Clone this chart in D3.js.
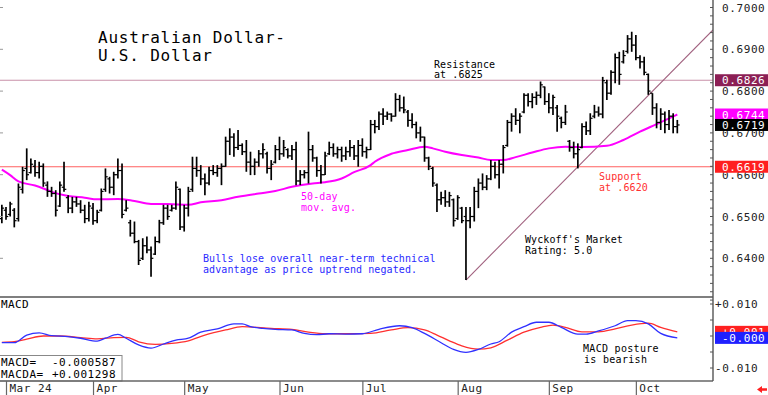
<!DOCTYPE html>
<html><head><meta charset="utf-8">
<script src="https://cdn.jsdelivr.net/npm/d3@7/dist/d3.min.js"></script>
<style>body{margin:0;background:#fff}svg{display:block}text{font-family:"DejaVu Sans Mono",monospace;white-space:pre}</style>
</head><body>
<script>
// ---- data ----
const highs=[.6528,.6523,.6535,.6520,.6579,.6619,.6663,.6639,.6635,.6631,
.6627,.6584,.6571,.6563,.6584,.6631,.6551,.6547,.6547,.6539,
.6528,.6535,.6532,.6516,.6567,.6615,.6595,.6607,.6639,.6627,
.6539,.6492,.6488,.6444,.6448,.6452,.6428,.6452,.6492,.6528,
.6528,.6528,.6584,.6567,.6528,.6571,.6643,.6643,.6623,.6603,
.6619,.6623,.6623,.6627,.6691,.6711,.6699,.6707,.6675,.6683,
.6655,.6639,.6659,.6675,.6655,.6635,.6671,.6691,.6683,.6663,
.6671,.6679,.6611,.6611,.6703,.6671,.6643,.6623,.6655,.6679,
.6675,.6667,.6667,.6667,.6683,.6671,.6683,.6687,.6667,.6731,
.6731,.6751,.6759,.6751,.6747,.6795,.6791,.6787,.6755,.6747,
.6727,.6715,.6691,.6643,.6619,.6579,.6559,.6563,.6559,.6543,
.6551,.6523,.6523,.6523,.6571,.6591,.6603,.6599,.6635,.6631,
.6635,.6671,.6731,.6747,.6759,.6747,.6795,.6795,.6795,.6799,
.6823,.6811,.6795,.6791,.6767,.6739,.6767,.6683,.6679,.6675,
.6723,.6727,.6747,.6767,.6763,.6834,.6827,.6850,.6890,.6894,
.6898,.6934,.6942,.6934,.6886,.6882,.6842,.6795,.6771,.6759,
.6751,.6755,.6747,.6731];
const lows=[.6484,.6492,.6500,.6474,.6488,.6555,.6587,.6603,.6595,.6591,
.6571,.6547,.6547,.6500,.6523,.6559,.6508,.6508,.6523,.6508,
.6484,.6488,.6480,.6484,.6512,.6559,.6555,.6551,.6591,.6496,
.6512,.6452,.6436,.6384,.6396,.6412,.6356,.6408,.6436,.6480,
.6492,.6512,.6516,.6468,.6464,.6500,.6559,.6595,.6575,.6551,
.6575,.6599,.6595,.6575,.6619,.6647,.6643,.6659,.6647,.6607,
.6599,.6599,.6619,.6639,.6603,.6587,.6627,.6635,.6643,.6639,
.6635,.6575,.6575,.6591,.6579,.6631,.6595,.6579,.6599,.6647,
.6643,.6639,.6631,.6635,.6643,.6635,.6619,.6643,.6639,.6659,
.6699,.6707,.6719,.6731,.6727,.6739,.6751,.6747,.6715,.6711,
.6687,.6679,.6631,.6611,.6571,.6511,.6528,.6523,.6523,.6476,
.6492,.6484,.6348,.6472,.6488,.6520,.6563,.6563,.6587,.6591,
.6567,.6603,.6667,.6703,.6719,.6699,.6747,.6763,.6759,.6767,
.6783,.6767,.6747,.6743,.6703,.6711,.6719,.6655,.6639,.6615,
.6663,.6695,.6695,.6735,.6739,.6735,.6779,.6791,.6819,.6815,
.6866,.6890,.6894,.6874,.6854,.6838,.6791,.6743,.6711,.6707,
.6699,.6707,.6699,.6699];
const opens=[.6495,.6515,.6505,.6515,.6495,.6565,.6615,.6605,.6620,.6605,
.6620,.6575,.6560,.6555,.6525,.6570,.6545,.6520,.6535,.6530,
.6515,.6495,.6520,.6490,.6515,.6565,.6590,.6570,.6600,.6610,
.6515,.6485,.6460,.6440,.6400,.6430,.6420,.6410,.6440,.6485,
.6520,.6515,.6520,.6565,.6475,.6520,.6565,.6615,.6610,.6590,
.6580,.6610,.6605,.6615,.6620,.6680,.6690,.6665,.6670,.6655,
.6630,.6620,.6630,.6650,.6650,.6615,.6630,.6660,.6650,.6660,
.6645,.6660,.6585,.6600,.6605,.6660,.6640,.6610,.6600,.6650,
.6665,.6650,.6660,.6645,.6655,.6665,.6645,.6670,.6655,.6660,
.6720,.6715,.6745,.6740,.6745,.6740,.6780,.6760,.6750,.6730,
.6720,.6700,.6690,.6640,.6615,.6575,.6540,.6545,.6535,.6540,
.6495,.6520,.6500,.6490,.6500,.6560,.6580,.6570,.6590,.6620,
.6600,.6625,.6670,.6725,.6740,.6730,.6750,.6790,.6775,.6785,
.6790,.6810,.6775,.6760,.6760,.6735,.6725,.6680,.6665,.6650,
.6665,.6715,.6705,.6740,.6750,.6745,.6820,.6795,.6845,.6880,
.6870,.6895,.6925,.6910,.6880,.6870,.6840,.6795,.6760,.6725,
.6745,.6720,.6740,.6715];
const closes=[.6520,.6500,.6530,.6490,.6570,.6610,.6600,.6625,.6605,.6620,
.6580,.6560,.6555,.6515,.6575,.6565,.6520,.6535,.6530,.6515,
.6495,.6525,.6490,.6510,.6560,.6595,.6570,.6600,.6610,.6505,
.6520,.6460,.6440,.6395,.6430,.6420,.6400,.6440,.6485,.6520,
.6500,.6520,.6570,.6475,.6520,.6560,.6615,.6610,.6590,.6580,
.6610,.6605,.6615,.6620,.6680,.6690,.6665,.6670,.6655,.6630,
.6620,.6630,.6650,.6660,.6615,.6625,.6660,.6650,.6665,.6645,
.6660,.6585,.6600,.6605,.6660,.6640,.6610,.6600,.6645,.6665,
.6650,.6660,.6645,.6655,.6665,.6645,.6670,.6655,.6660,.6720,
.6715,.6745,.6740,.6745,.6740,.6780,.6760,.6755,.6730,.6720,
.6700,.6690,.6640,.6620,.6580,.6540,.6545,.6535,.6550,.6490,
.6545,.6490,.6490,.6500,.6560,.6580,.6570,.6590,.6620,.6600,
.6625,.6665,.6725,.6740,.6730,.6740,.6790,.6775,.6785,.6790,
.6815,.6775,.6760,.6785,.6740,.6725,.6750,.6665,.6650,.6660,
.6715,.6705,.6735,.6750,.6745,.6825,.6795,.6845,.6880,.6840,
.6885,.6925,.6910,.6880,.6870,.6845,.6800,.6760,.6725,.6745,
.6720,.6740,.6715,.6719];

const maIdx=[0,2,4,8,10,12,16,20,23,28,32,36,40,45,48,53,57,62,66,70,75,78,82,85,89,90,94,98,102,104,107,111,115,118,121,124,128,132,136,140,146,150,154,158,163];
const maVals=[.6612,.6599,.6584,.6574,.6567,.6559,.6549,.6545,.6541,.6542,.6537,.6530,.6530,.6528,.6534,.6539,.6547,.6555,.6561,.6571,.6579,.6582,.6591,.6606,.6623,.6631,.6650,.6659,.6667,.6663,.6655,.6647,.6641,.6635,.6635,.6642,.6653,.6663,.6667,.6666,.6669,.6683,.6703,.6721,.6744];

const macdIdx=[0,3,6,9,12,16,19,23,25,28,30,33,36,39,42,45,48,52,56,58,60,63,66,70,73,76,79,83,87,91,96,99,102,106,109,112,115,118,120,123,126,129,132,135,139,141,144,148,151,153,156,159,163];
const macdVals=[-.0021,-.0021,.0003,.0010,.0001,-.0002,-.0007,-.0016,-.0007,.0005,-.0007,-.0028,-.0038,-.0025,-.0013,-.0007,.0012,.0022,.0038,.0038,.0029,.0024,.0021,.0019,.0008,.0004,.0007,.0006,.0007,.0021,.0032,.0026,.0008,-.0021,-.0042,-.0051,-.0042,-.0025,-.0018,.0012,.0029,.0043,.0043,.0027,.0006,.0006,.0016,.0032,.0048,.0048,.0038,.0008,-.000587];
const sigIdx=[0,3,6,10,14,19,23,27,30,33,37,41,45,49,54,58,65,70,74,78,84,89,94,98,102,105,108,111,115,118,122,126,130,133,136,140,144,148,152,156,159,163];
const sigVals=[-.0020,-.0018,-.0010,.0000,.0000,-.0005,-.0009,-.0005,-.0004,-.0018,-.0026,-.0023,-.0015,.0003,.0019,.0029,.0024,.0021,.0012,.0007,.0007,.0008,.0019,.0026,.0019,.0003,-.0015,-.0031,-.0041,-.0037,-.0013,.0012,.0027,.0034,.0027,.0013,.0013,.0022,.0034,.0040,.0027,.001298];

const monthLabels=["Mar 24","Apr","May","Jun","Jul","Aug","Sep","Oct"];
const monthIdx=[1,22,44,67,87,110,132,153];
const priceTicks=[0.64,0.65,0.66,0.67,0.68,0.69,0.70];
const macdTicks=[0.01,-0.01];
const resistance=0.6826, support=0.6619, lastMA=0.6744, lastClose=0.6719;
const trendPts=[[112,0.6348],[139,0.6619]];
const macdLast=-0.000587, macdaLast=0.001298;

// ---- layout ----
const W=768,H=395, axisX=713, sepY=297, botY=381;
const svg=d3.select("body").append("svg").attr("width",W).attr("height",H);
const x=d3.scaleLinear().domain([1,163]).range([6,677.3]);
const y=d3.scaleLinear().domain([0.63,0.70]).range([300.1,7.5]);
const ym=d3.scaleLinear().domain([-0.01,0.01]).range([368,304]);

const defs=svg.append("defs");
defs.append("clipPath").attr("id","cp").append("rect").attr("x",0).attr("y",0).attr("width",axisX).attr("height",sepY-1);
defs.append("clipPath").attr("id","cm").append("rect").attr("x",0).attr("y",sepY).attr("width",axisX).attr("height",botY-sepY);

const P=svg.append("g").attr("clip-path","url(#cp)");
P.append("line").attr("x1",0).attr("x2",axisX).attr("y1",y(resistance)).attr("y2",y(resistance)).attr("stroke","#c890a8").attr("stroke-width",1.2);
P.append("line").attr("x1",0).attr("x2",axisX).attr("y1",y(support)).attr("y2",y(support)).attr("stroke","#ff6060").attr("stroke-width",1.2);
const sl=(trendPts[1][1]-trendPts[0][1])/(trendPts[1][0]-trendPts[0][0]);
const iEnd=x.invert(axisX);
P.append("line").attr("x1",x(trendPts[0][0])).attr("y1",y(trendPts[0][1]))
 .attr("x2",axisX).attr("y2",y(trendPts[0][1]+sl*(iEnd-trendPts[0][0])))
 .attr("stroke","#a0607e").attr("stroke-width",1.1);
P.append("path").datum(maIdx.map((d,i)=>[d,maVals[i]]))
 .attr("d",d3.line().x(d=>x(d[0])).y(d=>y(d[1])).curve(d3.curveMonotoneX))
 .attr("fill","none").attr("stroke","#ff00ff").attr("stroke-width",2);
const bars=P.append("g").attr("stroke","#000");
highs.forEach((h,i)=>{
  const cx=x(i);
  bars.append("line").attr("x1",cx).attr("x2",cx).attr("y1",y(h)).attr("y2",y(lows[i])).attr("stroke-width",1.7);
  bars.append("line").attr("x1",cx-2.3).attr("x2",cx).attr("y1",y(opens[i])).attr("y2",y(opens[i])).attr("stroke-width",1.2);
  bars.append("line").attr("x1",cx).attr("x2",cx+2.3).attr("y1",y(closes[i])).attr("y2",y(closes[i])).attr("stroke-width",1.2);
});

function txt(s,xx,yy,size,col,ls){return svg.append("text").attr("x",xx).attr("y",yy).attr("font-size",size).attr("fill",col||"#000").attr("letter-spacing",ls||0).attr("xml:space","preserve").text(s);}
txt("Australian Dollar-",98,43,16,"#000",0.8);
txt("U.S. Dollar",98,61,16,"#000",0.8);
txt("Resistance",434,67.5,10,"#000",0.1);
txt("at .6825",434,78,10,"#000",0.1);
txt("Support",599,180,10,"#ff3030",0.1);
txt("at .6620",599,190.5,10,"#ff3030",0.1);
txt("50-day",301,200,10,"#ff00ff",0.1);
txt("mov. avg.",301,210.5,10,"#ff00ff",0.1);
txt("Wyckoff's Market",525,243,10,"#000",0.1);
txt("Rating: 5.0",525,253.5,10,"#000",0.1);
txt("Bulls lose overall near-term technical",203,262,10,"#2a2aff",0.1);
txt("advantage as price uptrend negated.",203,273,10,"#2a2aff",0.1);

const M=svg.append("g").attr("clip-path","url(#cm)");
M.append("path").datum(sigIdx.map((d,i)=>[d,sigVals[i]]))
 .attr("d",d3.line().x(d=>x(d[0])).y(d=>ym(d[1])).curve(d3.curveMonotoneX))
 .attr("fill","none").attr("stroke","#ff3030").attr("stroke-width",1.3);
M.append("path").datum(macdIdx.map((d,i)=>[d,macdVals[i]]))
 .attr("d",d3.line().x(d=>x(d[0])).y(d=>ym(d[1])).curve(d3.curveMonotoneX))
 .attr("fill","none").attr("stroke","#3030ff").attr("stroke-width",1.3);
txt("MACD",1,308,11,"#000",0.4);
txt("MACD posture",583,352,10,"#000",0.3);
txt("is bearish",584,363,10,"#000",0.3);
svg.append("rect").attr("x",-1).attr("y",355.5).attr("width",123).attr("height",botY-355.5).attr("fill","#fff").attr("stroke","#888").attr("stroke-width",1);
txt("MACD=",1,366,11,"#000",0.5);
txt(d3.format(".6f")(macdLast).replace("−","-"),52,366,11,"#000",0.5);
txt("MACDA=",1,378,11,"#000",0.5);
txt(d3.format("+.6f")(macdaLast),52,378,11,"#000",0.5);

svg.append("line").attr("x1",0).attr("x2",axisX).attr("y1",sepY).attr("y2",sepY).attr("stroke","#555").attr("stroke-width",1.6);
svg.append("line").attr("x1",0).attr("x2",axisX).attr("y1",botY).attr("y2",botY).attr("stroke","#666").attr("stroke-width",1.4);
svg.append("line").attr("x1",axisX).attr("x2",axisX).attr("y1",0).attr("y2",botY).attr("stroke","#555").attr("stroke-width",1.4);

const ay=svg.append("g").attr("transform",`translate(${axisX},0)`)
 .call(d3.axisRight(y).tickValues(priceTicks).tickSize(0).tickPadding(9).tickFormat(d3.format(".4f")));
ay.select(".domain").remove();
ay.selectAll("text").attr("font-size",11).attr("letter-spacing",0.6).attr("fill","#222").attr("font-family","DejaVu Sans Mono");
d3.range(0.630,0.7001,0.002).forEach(v=>{
  svg.append("line").attr("x1",axisX-3).attr("x2",axisX).attr("y1",y(v)).attr("y2",y(v)).attr("stroke","#555").attr("stroke-width",1);
});
priceTicks.forEach(v=>{
  svg.append("line").attr("x1",0).attr("x2",3).attr("y1",y(v)).attr("y2",y(v)).attr("stroke","#999").attr("stroke-width",1);
});
const am=svg.append("g").attr("transform",`translate(${axisX},0)`)
 .call(d3.axisRight(ym).tickValues(macdTicks).tickSize(0).tickPadding(2).tickFormat(d=>d3.format("+.3f")(d).replace("−","-")));
am.select(".domain").remove();
am.selectAll("text").attr("font-size",11).attr("letter-spacing",0.6).attr("fill","#222").attr("font-family","DejaVu Sans Mono");
[-0.01,-0.005,0,0.005,0.01].forEach(v=>{
  svg.append("line").attr("x1",axisX-3).attr("x2",axisX).attr("y1",ym(v)).attr("y2",ym(v)).attr("stroke","#555").attr("stroke-width",1);
});

function trunc3(v){const t=Math.trunc(Math.abs(v)*1000)/1000;return (v<0?"-":"+")+t.toFixed(3);}
function box(v,sc,bg,label){
  const cy=sc(v);
  svg.append("rect").attr("x",715).attr("y",cy-6).attr("width",53).attr("height",12).attr("fill",bg);
  svg.append("text").attr("x",722).attr("y",cy+4).attr("font-size",11).attr("letter-spacing",0.6).attr("fill","#fff").text(label);
}
box(resistance,y,"#8c1f55",d3.format(".4f")(resistance));
box(lastMA,y,"#ff00ff",d3.format(".4f")(lastMA));
box(lastClose,y,"#000",d3.format(".4f")(lastClose));
box(support,y,"#ff2020",d3.format(".4f")(support));
box(macdaLast,ym,"#ff2020",trunc3(macdaLast));
box(macdLast,ym,"#2020ff",trunc3(macdLast));

const ax=svg.append("g").attr("transform",`translate(0,${botY})`)
 .call(d3.axisBottom(x).tickValues(monthIdx).tickSize(14).tickFormat((d,i)=>monthLabels[i]));
ax.select(".domain").remove();
ax.selectAll(".tick line").attr("stroke","#666").attr("stroke-width",1.2);
ax.selectAll("text").attr("text-anchor","start").attr("x",3).attr("y",11).attr("dy",0)
 .attr("font-size",11).attr("letter-spacing",0.5).attr("fill","#222").attr("font-family","DejaVu Sans Mono");

svg.append("path").attr("d","M757,389.5 L762,386 L762,388.3 L767,388.3 L767,390.7 L762,390.7 L762,393 Z").attr("fill","#ff2020");
</script>
</body></html>
